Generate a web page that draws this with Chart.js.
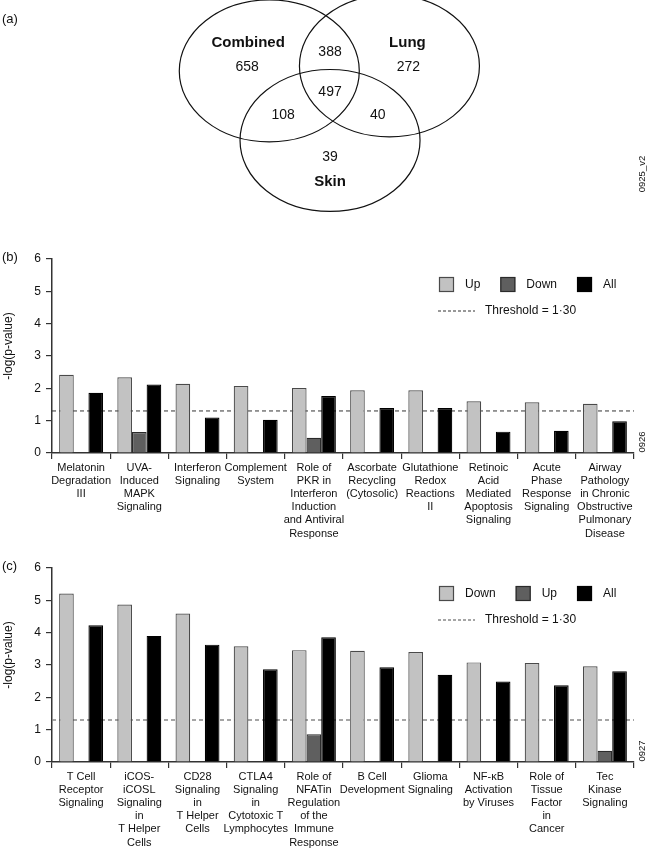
<!DOCTYPE html>
<html>
<head>
<meta charset="utf-8">
<title>Venn diagram and pathway enrichment</title>
<script src="https://cdn.jsdelivr.net/npm/chart.js@4.4.1/dist/chart.umd.min.js"></script>
<style>
 body { margin: 0; background: #fff; }
 canvas { position: absolute; left: 0; }
 #venn { top: 0; }
 #chartB { top: 240px; }
 #chartC { top: 549px; }
</style>
</head>
<body>
<canvas id="venn" width="648" height="230"></canvas>
<canvas id="chartB" width="648" height="300"></canvas>
<canvas id="chartC" width="648" height="300"></canvas>
<script>
// ---- (a) Venn: gene counts per region ----
var vennSets = ["Combined", "Lung", "Skin"];
var vennCounts = [658, 272, 39, 388, 108, 40, 497]; // C only, L only, S only, C+L, C+S, L+S, all

// where the circles and numbers sit (units of one circle radius)
var vennCenterX = [-0.675, 0.66, 0];
var vennCenterY = [0.48, 0.55, -0.50];
var vennCountX = [-0.92, 0.87, 0, 0, -0.52, 0.53, 0];
var vennCountY = [0.54, 0.54, -0.73, 0.75, -0.14, -0.14, 0.18];
var vennNameX = [-0.91, 0.86, 0];
var vennNameY = [0.87, 0.87, -1.08];

// ---- (b) ----
var pathwaysB = [["Melatonin", "Degradation", "III"], ["UVA-", "Induced", "MAPK", "Signaling"],
  ["Interferon", "Signaling"], ["Complement", "System"],
  ["Role of", "PKR in", "Interferon", "Induction", "and Antiviral", "Response"],
  ["Ascorbate", "Recycling", "(Cytosolic)"], ["Glutathione", "Redox", "Reactions", "II"],
  ["Retinoic", "Acid", "Mediated", "Apoptosis", "Signaling"], ["Acute", "Phase", "Response", "Signaling"],
  ["Airway", "Pathology", "in Chronic", "Obstructive", "Pulmonary", "Disease"]];
var seriesB = ["Up", "Down", "All"];
var upB = [2.42, 2.34, 2.14, 2.07, 2.01, 1.94, 1.94, 1.60, 1.57, 1.52];
var downB = [null, 0.65, null, null, 0.47, null, null, null, null, null];
var allB = [1.86, 2.12, 1.10, 1.03, 1.76, 1.39, 1.39, 0.66, 0.69, 0.98];

// ---- (c) ----
var pathwaysC = [["T Cell", "Receptor", "Signaling"], ["iCOS-", "iCOSL", "Signaling", "in", "T Helper", "Cells"],
  ["CD28", "Signaling", "in", "T Helper", "Cells"], ["CTLA4", "Signaling", "in", "Cytotoxic T", "Lymphocytes"],
  ["Role of", "NFATin", "Regulation", "of the", "Immune", "Response"], ["B Cell", "Development"],
  ["Glioma", "Signaling"], ["NF-\u03baB", "Activation", "by Viruses"],
  ["Role of", "Tissue", "Factor", "in", "Cancer"], ["Tec", "Kinase", "Signaling"]];
var seriesC = ["Down", "Up", "All"];
var downC = [5.21, 4.87, 4.59, 3.58, 3.46, 3.44, 3.40, 3.08, 3.06, 2.96];
var upC = [null, null, null, null, 0.86, null, null, null, null, 0.35];
var allC = [4.23, 3.90, 3.63, 2.87, 3.86, 2.93, 2.70, 2.49, 2.37, 2.81];

var threshold = 1.30;
var yMax = 6;
var yTitle = '-log(p-value)';

Chart.defaults.font.family = "'Liberation Sans', Arial, Helvetica, sans-serif";
Chart.defaults.color = "#111";

var vennDraw = {
  id: 'vennDraw',
  afterDraw: function(chart) {
    var ctx = chart.ctx, xs = chart.scales.x, ys = chart.scales.y;
    ctx.save();
    ctx.strokeStyle = '#111';
    ctx.lineWidth = 1.2;
    for (var i = 0; i < vennSets.length; i++) {
      var cx = xs.getPixelForValue(vennCenterX[i]), cy = ys.getPixelForValue(vennCenterY[i]);
      var rx = Math.abs(xs.getPixelForValue(vennCenterX[i] + 1) - cx);
      var ry = Math.abs(ys.getPixelForValue(vennCenterY[i] + 1) - cy);
      ctx.beginPath();
      ctx.ellipse(cx, cy, rx, ry, 0, 0, Math.PI * 2);
      ctx.stroke();
    }
    ctx.fillStyle = '#111';
    ctx.textAlign = 'center';
    ctx.textBaseline = 'middle';
    ctx.font = "14px 'Liberation Sans', Arial, sans-serif";
    for (var j = 0; j < vennCounts.length; j++) {
      ctx.fillText(String(vennCounts[j]), xs.getPixelForValue(vennCountX[j]), ys.getPixelForValue(vennCountY[j]));
    }
    ctx.font = "bold 15px 'Liberation Sans', Arial, sans-serif";
    for (var k = 0; k < vennSets.length; k++) {
      ctx.fillText(vennSets[k], xs.getPixelForValue(vennNameX[k]), ys.getPixelForValue(vennNameY[k]));
    }
    ctx.textAlign = 'left';
    ctx.font = "13px 'Liberation Sans', Arial, sans-serif";
    ctx.fillText('(a)', 2, 19);
    ctx.translate(642, 174);
    ctx.rotate(-Math.PI / 2);
    ctx.textAlign = 'center';
    ctx.font = "9.5px 'Liberation Sans', Arial, sans-serif";
    ctx.fillText('0925_v2', 0, 0);
    ctx.restore();
  }
};

new Chart(document.getElementById('venn'), {
  type: 'scatter',
  data: { datasets: [{ data: vennCenterX.map(function(x, i) { return { x: x, y: vennCenterY[i] }; }), pointRadius: 0 }] },
  options: {
    responsive: false, animation: false, devicePixelRatio: 1,
    layout: { padding: 0 },
    plugins: { legend: { display: false }, tooltip: { enabled: false } },
    scales: {
      x: { type: 'linear', display: false, min: -3.667, max: 3.533 },
      y: { type: 'linear', display: false, min: -1.761, max: 1.479 }
    }
  },
  plugins: [vennDraw]
});

// threshold line behind the bars, legend and labels on top
var panelDecor = {
  id: 'panelDecor',
  beforeDatasetsDraw: function(chart, args, o) {
    var ctx = chart.ctx, a = chart.chartArea;
    var ty = chart.scales.y.getPixelForValue(o.threshold);
    ctx.save();
    ctx.strokeStyle = o.lineColor;
    ctx.lineWidth = o.lineWidth;
    ctx.setLineDash([4, 3]);
    ctx.beginPath();
    ctx.moveTo(a.left, ty);
    ctx.lineTo(a.right, ty);
    ctx.stroke();
    ctx.restore();
  },
  afterDraw: function(chart, args, o) {
    var ctx = chart.ctx, a = chart.chartArea;
    ctx.save();
    ctx.font = "12px 'Liberation Sans', Arial, sans-serif";
    ctx.textBaseline = 'middle';
    ctx.textAlign = 'left';
    var x = a.left + 387, y = a.top + 18;
    chart.data.datasets.forEach(function(ds) {
      ctx.fillStyle = ds.backgroundColor;
      ctx.fillRect(x, y, 15, 15);
      ctx.strokeStyle = ds.borderColor;
      ctx.lineWidth = 1.2;
      ctx.strokeRect(x + 0.5, y + 0.5, 14, 14);
      ctx.fillStyle = '#111';
      ctx.fillText(ds.label, x + 26, y + 8);
      x += 26 + ctx.measureText(ds.label).width + 20;
    });
    var ly = a.top + 52;
    ctx.strokeStyle = o.lineColor;
    ctx.lineWidth = o.lineWidth;
    ctx.setLineDash([3, 2]);
    ctx.beginPath();
    ctx.moveTo(a.left + 386, ly);
    ctx.lineTo(a.left + 423, ly);
    ctx.stroke();
    ctx.fillText('Threshold = ' + o.threshold.toFixed(2).replace('.', '\u00b7'), a.left + 433, ly);
    ctx.font = "13px 'Liberation Sans', Arial, sans-serif";
    ctx.fillText(o.panel, 2, 17);
    // axis title, sitting a little above the middle of the axis as in the figure
    ctx.save();
    ctx.translate(9, (a.top + a.bottom) / 2 - 10);
    ctx.rotate(-Math.PI / 2);
    ctx.textAlign = 'center';
    ctx.font = "12px 'Liberation Sans', Arial, sans-serif";
    ctx.fillText(yTitle, 0, 0);
    ctx.restore();
    ctx.translate(642, a.top + 183);
    ctx.rotate(-Math.PI / 2);
    ctx.textAlign = 'center';
    ctx.font = "9.5px 'Liberation Sans', Arial, sans-serif";
    ctx.fillText(o.code, 0, 0);
    ctx.restore();
  }
};

function barChart(id, labels, names, series, fills, borders, decor) {
  var datasets = names.map(function(n, i) {
    return {
      label: n, data: series[i],
      backgroundColor: fills[i], borderColor: borders[i], borderWidth: 1.2, borderSkipped: 'bottom',
      categoryPercentage: 0.755, barPercentage: 1
    };
  });
  return new Chart(document.getElementById(id), {
    type: 'bar',
    data: { labels: labels, datasets: datasets },
    options: {
      responsive: false, animation: false, devicePixelRatio: 1,
      layout: { padding: { top: 19, right: 14, left: 0, bottom: 0 } },
      plugins: { legend: { display: false }, tooltip: { enabled: false }, panelDecor: decor },
      scales: {
        x: {
          grid: { offset: true, drawOnChartArea: false, tickLength: 6, color: '#333', lineWidth: 1.2 },
          border: { color: '#333', width: 1.5 },
          ticks: { autoSkip: false, maxRotation: 0, font: { size: 11 }, color: '#111', padding: 2 },
          afterFit: function(s) { s.height = 87; }
        },
        y: {
          min: 0, max: yMax,
          ticks: { stepSize: 1, font: { size: 12 }, color: '#111', padding: 5 },
          grid: { drawOnChartArea: false, tickLength: 6, color: '#333', lineWidth: 1.2 },
          border: { color: '#333', width: 1.5 },
          afterFit: function(s) { s.width = 52; }
        }
      }
    },
    plugins: [panelDecor]
  });
}

barChart('chartB', pathwaysB, seriesB, [upB, downB, allB],
  ['#c2c2c2', '#5f5f5f', '#000'], ['#4a4a4a', '#2a2a2a', '#000'],
  { threshold: threshold, lineColor: '#333', lineWidth: 1, panel: '(b)', code: '0926' });

barChart('chartC', pathwaysC, seriesC, [downC, upC, allC],
  ['#c2c2c2', '#5f5f5f', '#000'], ['#4a4a4a', '#2a2a2a', '#000'],
  { threshold: threshold, lineColor: '#888', lineWidth: 1.5, panel: '(c)', code: '0927' });
</script>
</body>
</html>
